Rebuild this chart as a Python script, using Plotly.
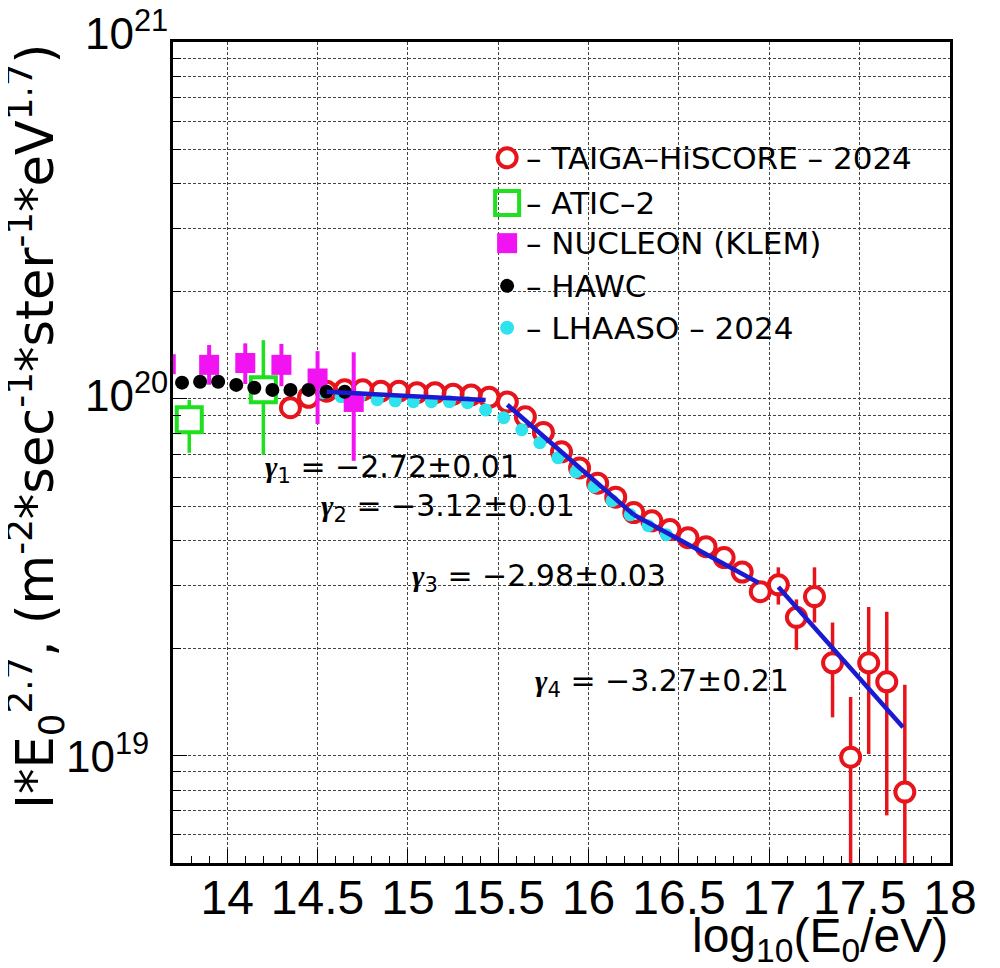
import math
import plotly.graph_objects as go

# ---------------- data ----------------
# TAIGA-HiSCORE 2024
taiga_x = [14.35, 14.45, 14.55, 14.65, 14.75, 14.85, 14.95, 15.05, 15.15, 15.25,
           15.35, 15.45, 15.55, 15.65, 15.75, 15.85, 15.95, 16.05, 16.15, 16.25,
           16.35, 16.45, 16.55, 16.65, 16.75, 16.85, 16.95, 17.05, 17.15, 17.25,
           17.35, 17.45, 17.55, 17.65, 17.75]
taiga_y = [9.44e19, 1.01e20, 1.05e20, 1.06e20, 1.06e20, 1.05e20, 1.05e20, 1.04e20, 1.04e20, 1.03e20,
           1.025e20, 1.01e20, 9.8e19, 8.9e19, 8.05e19, 7.1e19, 6.4e19, 5.8e19, 5.3e19, 4.8e19,
           4.55e19, 4.3e19, 4.08e19, 3.85e19, 3.59e19, 3.27e19, 2.88e19, 3.01e19, 2.44e19, 2.79e19,
           1.82e19, 9.9e18, 1.82e19, 1.61e19, 7.9e18]
taiga_err_up = [0, 0, 0, 0, 0, 0, 0, 0, 0, 0,
                0, 0, 0, 0, 0, 0, 0, 0, 0, 0,
                0, 0, 0, 0, 0, 1.0e18, 1.5e18, 3.6e18, 3.0e18, 5.8e18,
                5.4e18, 4.7e18, 7.9e18, 9.2e18, 7.9e18]
taiga_err_dn = [0, 0, 0, 0, 0, 0, 0, 0, 0, 0,
                0, 0, 0, 0, 0, 0, 0, 0, 0, 0,
                0, 0, 0, 0, 0, 1.0e18, 1.5e18, 3.6e18, 4.6e18, 4.3e18,
                5.4e18, 9.5e18, 8.1e18, 9.3e18, 7.6e18]

# ATIC-2
atic_x = [13.79, 14.20]
atic_y = [8.73e19, 1.06e20]
atic_err_up = [1.2e19, 4.0e19]
atic_err_dn = [1.67e19, 3.63e19]

# NUCLEON (KLEM)
nucleon_x = [13.66, 13.90, 14.10, 14.30, 14.50, 14.70]
nucleon_y = [1.25e20, 1.245e20, 1.26e20, 1.245e20, 1.14e20, 9.8e19]
nucleon_err_up = [1.7e19, 1.7e19, 1.7e19, 1.8e19, 2.2e19, 3.7e19]
nucleon_err_dn = [1.5e19, 1.5e19, 1.6e19, 1.6e19, 2.9e19, 3.1e19]

# HAWC
hawc_x = [13.75, 13.85, 13.95, 14.05, 14.15, 14.25, 14.35, 14.45, 14.55, 14.65]
hawc_y = [1.11e20, 1.116e20, 1.116e20, 1.094e20, 1.074e20, 1.059e20, 1.059e20, 1.059e20, 1.047e20, 1.047e20]

# LHAASO 2024
lhaaso_x = [14.53, 14.63, 14.73, 14.83, 14.93, 15.03, 15.13, 15.23, 15.33, 15.43,
            15.53, 15.63, 15.73, 15.83, 15.93, 16.03, 16.13, 16.23, 16.33, 16.43]
lhaaso_y = [1.04e20, 1.014e20, 1.007e20, 9.94e19, 9.87e19, 9.81e19, 9.81e19, 9.81e19, 9.75e19, 9.31e19,
            8.85e19, 8.19e19, 7.53e19, 6.84e19, 6.25e19, 5.67e19, 5.18e19, 4.73e19, 4.41e19, 4.16e19]

# broken power-law fit segments
fit_x_start = [14.55, 15.55, 16.25, 17.05]
fit_x_end = [15.43, 16.25, 16.94, 17.74]
fit_y_start = [1.047e20, 9.62e19, 4.73e19, 2.97e19]
fit_y_end = [9.93e19, 4.73e19, 3.05e19, 1.20e19]
fit_labels = ["1", "2", "3", "4"]
fit_gamma = ["−2.72±0.01", "−3.12±0.01", "−2.98±0.03", "−3.27±0.21"]

# tick labels
x_ticks = [14, 14.5, 15, 15.5, 16, 16.5, 17, 17.5, 18]
x_tick_text = ["14", "14.5", "15", "15.5", "16", "16.5", "17", "17.5", "18"]
y_ticks = [1e19, 1e20, 1e21]
y_tick_text = ["10<sup>19</sup>", "10<sup>20</sup>", "10<sup>21</sup>"]

legend_names = ["– TAIGA–HiSCORE – 2024", "– ATIC–2", "– NUCLEON (KLEM)", "– HAWC", "– LHAASO – 2024"]

# ---------------- style ----------------
RED = "#e8141c"
GREEN = "#1fe01f"
MAGENTA = "#f213f2"
BLACK = "#000000"
CYAN = "#2ee3ee"
BLUE = "#1a1ad0"
TXT = "Liberation Sans, Arial, sans-serif"
WIDE = "DejaVu Sans, Verdana, sans-serif"

fig = go.Figure()

# ATIC-2: white fill hides error bar inside the box, then open square on top
fig.add_trace(go.Scatter(
    x=atic_x, y=atic_y, mode="markers",
    marker=dict(symbol="square", size=22, color="white", line=dict(width=0)),
    error_y=dict(type="data", symmetric=False, array=atic_err_up, arrayminus=atic_err_dn,
                 color=GREEN, thickness=3.5, width=0),
    showlegend=False, hoverinfo="skip"))
fig.add_trace(go.Scatter(
    x=atic_x, y=atic_y, mode="markers",
    marker=dict(symbol="square-open", size=25, color=GREEN, line=dict(width=4, color=GREEN)),
    showlegend=False))

# TAIGA-HiSCORE
fig.add_trace(go.Scatter(
    x=taiga_x, y=taiga_y, mode="markers",
    marker=dict(symbol="circle", size=16, color="white", line=dict(width=0)),
    error_y=dict(type="data", symmetric=False, array=taiga_err_up, arrayminus=taiga_err_dn,
                 color=RED, thickness=3.5, width=0),
    showlegend=False, hoverinfo="skip"))
fig.add_trace(go.Scatter(
    x=taiga_x, y=taiga_y, mode="markers",
    marker=dict(symbol="circle-open", size=19, color=RED, line=dict(width=4, color=RED)),
    showlegend=False))

# LHAASO
fig.add_trace(go.Scatter(
    x=lhaaso_x, y=lhaaso_y, mode="markers",
    marker=dict(symbol="circle", size=13, color=CYAN, line=dict(width=0)),
    showlegend=False))

# NUCLEON
fig.add_trace(go.Scatter(
    x=nucleon_x, y=nucleon_y, mode="markers",
    marker=dict(symbol="square", size=20, color=MAGENTA, line=dict(width=0)),
    error_y=dict(type="data", symmetric=False, array=nucleon_err_up, arrayminus=nucleon_err_dn,
                 color=MAGENTA, thickness=4, width=0),
    showlegend=False))

# HAWC
fig.add_trace(go.Scatter(
    x=hawc_x, y=hawc_y, mode="markers",
    marker=dict(symbol="circle", size=14, color=BLACK, line=dict(width=0)),
    showlegend=False))

# fits
for xs, xe, ys, ye in zip(fit_x_start, fit_x_end, fit_y_start, fit_y_end):
    fig.add_trace(go.Scatter(x=[xs, xe], y=[ys, ye], mode="lines",
                             line=dict(color=BLUE, width=4.5), showlegend=False))

# ---------------- legend (drawn on an overlay axis in plot-fraction units) ----------------
leg_mx = 0.430
leg_tx = 0.452
leg_rows = [0.859, 0.804, 0.755, 0.703, 0.652]
leg_sym = ["circle-open", "square-open", "square", "circle", "circle"]
leg_size = [19, 24, 20, 14, 14]
leg_col = [RED, GREEN, MAGENTA, BLACK, CYAN]
leg_lw = [4, 4, 0, 0, 0]
for sym, sz, col, lw, ry in zip(leg_sym, leg_size, leg_col, leg_lw, leg_rows):
    fig.add_trace(go.Scatter(x=[leg_mx], y=[ry], xaxis="x2", yaxis="y2", mode="markers",
                             marker=dict(symbol=sym, size=sz, color=col, line=dict(width=lw, color=col)),
                             showlegend=False, hoverinfo="skip"))

annotations = []
for name, ry in zip(legend_names, leg_rows):
    annotations.append(dict(xref="paper", yref="paper", x=leg_tx, y=ry, text=name,
                            showarrow=False, xanchor="left", yanchor="middle",
                            font=dict(family=WIDE, size=31, color="black")))

# gamma labels
gam_pos = [(14.20, 19.798), (14.51, 19.689), (15.01, 19.493), (15.69, 19.199)]
for (gx, gy), lab, val in zip(gam_pos, fit_labels, fit_gamma):
    annotations.append(dict(
        xref="x", yref="y", x=gx, y=gy, showarrow=False, xanchor="left", yanchor="middle",
        yshift=2,
        text=("<span style='font-family:Liberation Serif;font-style:italic;font-weight:bold'>γ</span>"
              "<sub>" + lab + "</sub> = " + val),
        font=dict(family=WIDE, size=30, color="black")))

# y tick labels (ROOT-like placement, each nudged individually)
ytl_xshift = [-22, -3, -3]
ytl_yshift = [2, 6, 12]
for v, t, dx, dy in zip(y_ticks, y_tick_text, ytl_xshift, ytl_yshift):
    annotations.append(dict(xref="paper", yref="y", x=0, y=math.log10(v), text=t,
                            showarrow=False, xanchor="right", yanchor="middle",
                            xshift=dx, yshift=dy,
                            font=dict(family=TXT, size=44, color="black")))

# axis titles
annotations.append(dict(xref="paper", yref="paper", x=1.0, y=-0.053,
                        text="log<sub>10</sub>(E<sub>0</sub>/eV)", showarrow=False,
                        xanchor="right", yanchor="top",
                        font=dict(family=TXT, size=48, color="black")))
annotations.append(dict(xref="paper", yref="paper", x=-0.177, y=1.0,
                        text="I*E<sub>0</sub><sup>2.7</sup>, (m<sup>-2</sup>*sec<sup>-1</sup>*ster<sup>-1</sup>*eV<sup>1.7</sup>)",
                        showarrow=False, textangle=-90, xanchor="center", yanchor="top",
                        font=dict(family=WIDE, size=51, color="black")))

GRID = "#444444"
minor_y = [float(m) * 10.0 ** e for e in (18, 19, 20) for m in range(2, 10)]

# the page adds an 8 px body margin, so the figure is 8 px smaller and shifted
fig.update_layout(
    width=992, height=960,
    margin=dict(l=165, r=50, t=34, b=105),
    paper_bgcolor="white", plot_bgcolor="white",
    annotations=annotations,
    xaxis=dict(range=[13.7, 18.0], tickmode="array", tickvals=x_ticks, ticktext=x_tick_text,
               ticks="inside", ticklen=14, tickwidth=1, tickcolor="black",
               showgrid=True, gridcolor=GRID, gridwidth=1, griddash="3px,2px",
               showline=True, linewidth=3, linecolor="black", mirror=True,
               zeroline=False, ticklabelstandoff=-10,
               tickfont=dict(family=TXT, size=48, color="black"),
               minor=dict(tickmode="linear", tick0=14, dtick=0.1, ticks="inside", ticklen=7,
                          tickcolor="black", showgrid=False)),
    yaxis=dict(type="log", range=[math.log10(5e18), 21], tickmode="array", tickvals=y_ticks,
               ticktext=y_tick_text, showticklabels=False,
               ticks="inside", ticklen=14, tickwidth=1, tickcolor="black",
               showgrid=True, gridcolor=GRID, gridwidth=1, griddash="3px,2px",
               showline=True, linewidth=3, linecolor="black", mirror=True,
               zeroline=False,
               minor=dict(tickmode="array", tickvals=minor_y, ticks="inside", ticklen=8,
                          tickcolor="black", showgrid=True, gridcolor=GRID, gridwidth=1,
                          griddash="3px,2px")),
    xaxis2=dict(overlaying="x", range=[0, 1], visible=False, fixedrange=True),
    yaxis2=dict(overlaying="y", range=[0, 1], visible=False, fixedrange=True),
)

fig.write_html("out.html")
